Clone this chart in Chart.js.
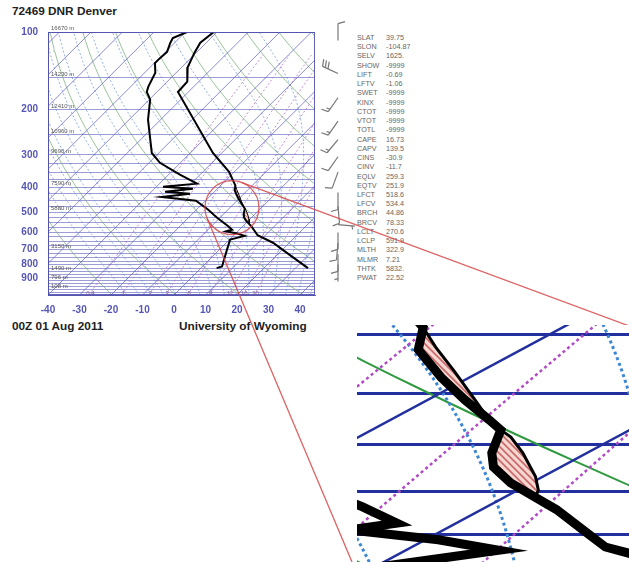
<!DOCTYPE html>
<html><head><meta charset="utf-8">
<script src="https://cdn.jsdelivr.net/npm/chart.js@4.4.1/dist/chart.umd.min.js"></script>
<style>
html,body{margin:0;padding:0;background:#fff;}
body{width:629px;height:562px;position:relative;overflow:hidden;font-family:"Liberation Sans",Arial,sans-serif;}
#main{position:absolute;left:0;top:0;z-index:2}
#zoom{position:absolute;left:357px;top:325px;z-index:3;background:#fff}
.t{position:absolute;font-weight:bold;color:#222;white-space:nowrap;z-index:1;font-size:11.8px}
#idx{position:absolute;left:357px;top:33px;font-size:7.2px;color:#666;line-height:9.23px;z-index:1;white-space:nowrap}
#idx span{display:inline-block;width:29px}
</style></head><body>
<div class="t" style="left:12px;top:4px">72469 DNR Denver</div>
<div class="t" style="left:12px;top:319px">00Z 01 Aug 2011</div>
<div class="t" style="left:179px;top:319px">University of Wyoming</div>
<div id="idx"></div>
<canvas id="main" width="629" height="562"></canvas>
<canvas id="zoom" width="272" height="237"></canvas>
<script>
// ---- sounding: 72469 Denver, 00Z 01 Aug 2011 ----
const tempP = [100, 110, 120, 137, 156, 171, 295, 349, 394, 412, 436, 456, 475, 485, 508, 523, 540, 556, 570, 598, 615, 658, 740, 826];
const tempT = [-71.0, -71.9, -70.6, -68.1, -63.6, -63.3, -32.8, -21.7, -15.4, -14.0, -11.1, -8.6, -6.2, -5.0, -3.7, -2.6, -0.8, 1.2, 2.9, 5.8, 7.5, 14.8, 24.7, 34.0];

const dewP = [100, 105.5, 110, 119.5, 128, 132, 144, 163, 171, 183, 219, 295, 322, 358, 388, 399, 406, 417, 425, 437, 452, 489, 526, 567, 586, 594, 606, 619, 640, 700, 814, 826];
const dewT = [-79.5, -82.1, -81.4, -79.5, -79.8, -79.8, -76.6, -74.4, -73.2, -69.7, -64.0, -52.2, -46.5, -36.4, -28.1, -37.9, -27.8, -35.7, -27.1, -35.0, -23.0, -16.4, -10.9, -4.8, -2.3, -3.7, 0.5, 3.6, 0.2, 2.4, 6.2, 5.0];

// lifted parcel where it departs from the environment
const parcelP = [394, 410, 430, 456, 475, 485, 492, 508, 533, 548, 556];
const parcelT = [-15.4, -13.5, -11.1, -8.2, -6.2, -5.0, -4.1, -2.5, -0.3, 0.8, 1.2];

// winds (direction deg, speed kt)
const windP   = [108, 145, 180, 222, 262, 305, 350, 420, 475, 560, 600, 660, 730, 800];
const windDir = [360, 295, 215, 215, 220, 215, 200, 180, 175, 95, 180, 185, 180, 180];
const windKt  = [10, 30, 15, 15, 15, 10, 10, 10, 10, 5, 10, 10, 10, 5];

// axes
const pressureLabels = [100, 200, 300, 400, 500, 600, 700, 800, 900];
const tempTicks = [-40, -30, -20, -10, 0, 10, 20, 30, 40];
const isobars = [100, 150, 200, 250, 300, 325, 350, 375, 400, 425, 450, 475, 500, 525, 550, 575, 600, 625, 650, 675,
                 700, 725, 750, 775, 800, 825, 850, 875, 900, 925, 950, 975, 1000, 1025, 1050];
const heightP = [100, 150, 200, 250, 300, 400, 500, 700, 850, 925, 1000];
const heightM = ['16670 m', '14230 m', '12410 m', '10960 m', '9690 m', '7590 m', '5880 m', '3150 m', '1490 m', '796 m', '108 m'];
const mixRatios = [0.4, 1, 2, 3, 5, 8, 12, 16, 20];

// station indices
const idxNames  = ['SLAT','SLON','SELV','SHOW','LIFT','LFTV','SWET','KINX','CTOT','VTOT','TOTL','CAPE','CAPV','CINS','CINV','EQLV','EQTV','LFCT','LFCV','BRCH','BRCV','LCLT','LCLP','MLTH','MLMR','THTK','PWAT'];
const idxValues = ['39.75','-104.87','1625.','-9999','-0.69','-1.06','-9999','-9999','-9999','-9999','-9999','16.73','139.5','-30.9','-11.7','259.3','251.9','518.6','534.4','44.86','78.33','270.6','591.9','322.9','7.21','5832.','22.52'];

document.getElementById('idx').innerHTML = idxNames.map((n, i) => '<div><span>' + n + '</span>' + idxValues[i] + '</div>').join('');

// ---- skew-T geometry ----
const P_BOT = 1050, P_TOP = 100;
const SKEW = 81.9;                       // deg C shift per decade of pressure (45 deg isotherms)
const skewX = (t, p) => t + SKEW * Math.log10(P_BOT / p);
const pts = (P, T) => P.map((p, i) => ({x: skewX(T[i], p), y: p}));

const pLevels = [];
for (let i = 0; i <= 80; i++) pLevels.push(P_BOT * Math.pow(P_TOP / P_BOT, i / 80));

function isothermLines() {
  const out = [];
  for (let t = -130; t <= 40; t += 10) out.push([{x: skewX(t, P_BOT), y: P_BOT}, {x: skewX(t, P_TOP), y: P_TOP}]);
  return out;
}
function dryAdiabats() {
  const out = [];
  for (let th = 230; th <= 490; th += 20)
    out.push(pLevels.map(p => ({x: skewX(th * Math.pow(p / 1000, 0.2857) - 273.15, p), y: p})));
  return out;
}
function esat(tc) { return 6.112 * Math.exp(17.67 * tc / (tc + 243.5)); }
function moistRate(p, T) {
  const Rd = 287.04, Cp = 1005.7, L = 2.501e6, eps = 0.622;
  const es = esat(T - 273.15), rs = eps * es / (p - es);
  return (Rd * T + L * rs) / (p * (Cp + L * L * rs * eps / (Rd * T * T)));
}
function moistAdiabats() {
  const out = [];
  for (let t0 = -18; t0 <= 42; t0 += 4) {
    const line = [];
    let T = t0 + 273.15, p = 1000;
    const low = [];
    while (p < P_BOT) { const dp = 5; const k1 = moistRate(p, T); const k2 = moistRate(p + dp, T + k1 * dp); T += 0.5 * (k1 + k2) * dp; p += dp; low.push({x: skewX(T - 273.15, p), y: p}); }
    for (let i = low.length - 1; i >= 0; i--) line.push(low[i]);
    T = t0 + 273.15; p = 1000;
    line.push({x: skewX(t0, 1000), y: 1000});
    while (p > P_TOP) { const dp = -5; const k1 = moistRate(p, T); const k2 = moistRate(p + dp, T + k1 * dp); T += 0.5 * (k1 + k2) * dp; p += dp; line.push({x: skewX(T - 273.15, p), y: p}); }
    out.push(line);
  }
  return out;
}
function dewFromMix(w, p) { const e = w * p / (622 + w); const a = Math.log(e / 6.112); return 243.5 * a / (17.67 - a); }
function mixLines() {
  return mixRatios.map(w => pLevels.filter(p => p >= 120).map(p => ({x: skewX(dewFromMix(w, p), p), y: p})));
}

function hatch(size, lw) {
  const c = document.createElement('canvas'); c.width = c.height = size;
  const g = c.getContext('2d');
  g.fillStyle = '#f6d6d0'; g.fillRect(0, 0, size, size);
  g.strokeStyle = '#c86a6a'; g.lineWidth = lw;
  g.beginPath(); g.moveTo(0, 0); g.lineTo(size, size); g.moveTo(-size, 0); g.lineTo(size, 2 * size); g.moveTo(0, -size); g.lineTo(2 * size, size); g.stroke();
  return g.createPattern(c, 'repeat');
}

function buildDatasets(st) {
  const ds = [];
  const add = (data, color, w, dash, order) => ds.push({data, showLine: true, pointRadius: 0, borderColor: color, borderWidth: w, borderDash: dash || [], fill: false, order, tension: 0});
  dryAdiabats().forEach(d => add(d, st.dry.c, st.dry.w, null, 9));
  moistAdiabats().forEach(d => add(d, st.moist.c, st.moist.w, st.moist.dash, 8));
  mixLines().forEach(d => add(d, st.mix.c, st.mix.w, st.mix.dash, 7));
  isothermLines().forEach(d => add(d, st.iso.c, st.iso.w, null, 6));
  // shaded area between parcel and environment
  const env = pts(tempP, tempT).filter(q => q.y >= parcelP[0] && q.y <= parcelP[parcelP.length - 1]);
  const poly = pts(parcelP, parcelT).concat(env.reverse());
  ds.push({data: poly, showLine: true, pointRadius: 0, borderWidth: 0, borderColor: 'rgba(0,0,0,0)', backgroundColor: st.hatch, fill: 'shape', order: 3});
  add(pts(parcelP, parcelT), '#000', st.parcel.w, null, 2);
  add(pts(dewP, dewT), '#000', st.dew.w, null, 1);
  add(pts(tempP, tempT), '#000', st.temp.w, null, 0);
  return ds;
}

const tickColor = '#5656b4';
const labelFont = {family: '"Liberation Sans", Arial, sans-serif', size: 10, weight: 'bold'};

function drawBarb(ctx, x, y, dir, spd, L) {
  const a = dir * Math.PI / 180;
  const ux = Math.sin(a), uy = -Math.cos(a);
  const px = -uy, py = ux;
  const ex = x + ux * L, ey = y + uy * L;
  ctx.beginPath(); ctx.moveTo(x, y); ctx.lineTo(ex, ey); ctx.stroke();
  let s = Math.round(spd / 5) * 5, d = 0;
  while (s >= 50) {
    const bx = ex - ux * d, by = ey - uy * d;
    ctx.beginPath(); ctx.moveTo(bx, by); ctx.lineTo(bx + px * 7 - ux * 2, by + py * 7 - uy * 2); ctx.lineTo(bx - ux * 4, by - uy * 4); ctx.closePath(); ctx.fill();
    s -= 50; d += 5;
  }
  while (s >= 10) {
    const bx = ex - ux * d, by = ey - uy * d;
    ctx.beginPath(); ctx.moveTo(bx, by); ctx.lineTo(bx + px * 7 + ux * 2, by + py * 7 + uy * 2); ctx.stroke();
    s -= 10; d += 3;
  }
  if (s >= 5) {
    if (d === 0) d = 3;
    const bx = ex - ux * d, by = ey - uy * d;
    ctx.beginPath(); ctx.moveTo(bx, by); ctx.lineTo(bx + px * 3.5 + ux, by + py * 3.5 + uy); ctx.stroke();
  }
}

const frame = {
  id: 'frame',
  afterDatasetsDraw(chart) {
    const {ctx, chartArea: a, scales} = chart;
    ctx.save();
    ctx.strokeStyle = 'rgba(80,80,175,0.9)'; ctx.lineWidth = 1;
    ctx.strokeRect(a.left + 0.5, a.top + 0.5, a.right - a.left - 1, a.bottom - a.top - 1);
    // heights of the standard levels
    ctx.fillStyle = '#555'; ctx.font = '6px "Liberation Sans", Arial, sans-serif'; ctx.textBaseline = 'bottom';
    heightP.forEach((p, i) => ctx.fillText(heightM[i], a.left + 3, scales.y.getPixelForValue(p) - 0.5));
    // mixing ratio values along the bottom
    ctx.fillStyle = '#7a5a9a'; ctx.textAlign = 'center';
    ctx.save(); ctx.beginPath(); ctx.rect(a.left, a.top, a.right - a.left, a.bottom - a.top); ctx.clip();
    mixRatios.forEach(w => ctx.fillText(String(w), scales.x.getPixelForValue(skewX(dewFromMix(w, 1030), 1030)), scales.y.getPixelForValue(1030) + 3));
    ctx.restore();
    // wind barbs
    ctx.strokeStyle = '#777'; ctx.fillStyle = '#777'; ctx.lineWidth = 1.2;
    windP.forEach((p, i) => drawBarb(ctx, 338, scales.y.getPixelForValue(p), windDir[i], windKt[i], 17));
    // zoom marker: circle around the 500 hPa kink and rays to the enlarged view
    const cx = scales.x.getPixelForValue(18.4), cy = scales.y.getPixelForValue(481), r = 27;
    ctx.strokeStyle = 'rgba(215,70,70,0.85)'; ctx.lineWidth = 1.3;
    ctx.beginPath(); ctx.arc(cx, cy, r, 0, Math.PI * 2); ctx.stroke();
    const ray = (Px, Py, pick) => {
      const dx = cx - Px, dy = cy - Py, d = Math.hypot(dx, dy);
      const th = Math.atan2(dy, dx), al = Math.asin(r / d), len = Math.sqrt(d * d - r * r);
      const c1 = [Px + len * Math.cos(th + al), Py + len * Math.sin(th + al)];
      const c2 = [Px + len * Math.cos(th - al), Py + len * Math.sin(th - al)];
      const t = pick(c1, c2) ? c1 : c2;
      ctx.beginPath(); ctx.moveTo(Px, Py); ctx.lineTo(t[0], t[1]); ctx.stroke();
    };
    ray(629, 326, (a1, a2) => a1[1] < a2[1]);
    ray(352, 562, (a1, a2) => a1[0] < a2[0]);
    ctx.restore();
  }
};

new Chart(document.getElementById('main'), {
  type: 'scatter',
  data: {datasets: buildDatasets({
    iso: {c: 'rgba(90,90,195,0.7)', w: 1},
    dry: {c: 'rgba(120,175,120,0.75)', w: 1},
    moist: {c: 'rgba(80,125,210,0.6)', w: 1, dash: [2, 2]},
    mix: {c: 'rgba(175,95,195,0.7)', w: 1, dash: [2, 2]},
    temp: {w: 2}, dew: {w: 2}, parcel: {w: 1}, hatch: hatch(3, 0.8)
  })},
  options: {
    responsive: false, animation: false, devicePixelRatio: 1,
    layout: {padding: {left: 0, top: 32, right: 314, bottom: 237}},
    plugins: {legend: {display: false}, tooltip: {enabled: false}},
    scales: {
      x: {
        type: 'linear', min: -40, max: -40 + 267 / 3.15,
        afterBuildTicks: s => { s.ticks = tempTicks.map(v => ({value: v})); },
        afterFit: s => { s.height = 30; },
        grid: {display: false},
        border: {display: true, color: 'rgba(80,80,175,0.9)'},
        ticks: {color: tickColor, font: labelFont, padding: 1, autoSkip: false, maxRotation: 0}
      },
      y: {
        type: 'logarithmic', reverse: true, min: P_TOP, max: P_BOT,
        afterBuildTicks: s => { s.ticks = isobars.map(v => ({value: v})); },
        afterFit: s => { s.width = 48; },
        grid: {color: 'rgba(95,95,190,0.62)', lineWidth: 1, drawTicks: false},
        border: {display: true, color: 'rgba(80,80,175,0.9)'},
        ticks: {color: tickColor, font: labelFont, padding: 10, autoSkip: false,
          callback: v => pressureLabels.includes(v) ? String(v) : ''}
      }
    }
  },
  plugins: [frame]
});

// enlarged view of the 400-600 hPa layer
new Chart(document.getElementById('zoom'), {
  type: 'scatter',
  data: {datasets: buildDatasets({
    iso: {c: '#22309f', w: 2.5},
    dry: {c: '#2f9a3f', w: 2},
    moist: {c: '#3c86d4', w: 3, dash: [3, 3]},
    mix: {c: '#b24ac6', w: 2.5, dash: [3, 3]},
    temp: {w: 9}, dew: {w: 9}, parcel: {w: 3}, hatch: hatch(7, 1.6)
  })},
  options: {
    responsive: false, animation: false, devicePixelRatio: 1,
    layout: {padding: 0},
    plugins: {legend: {display: false}, tooltip: {enabled: false}},
    scales: {
      x: {type: 'linear', min: 16.9, max: 16.9 + 272 / 25.8, display: false},
      y: {
        type: 'logarithmic', reverse: true, min: 392, max: 634,
        afterBuildTicks: s => { s.ticks = isobars.filter(p => p % 50 === 0 && p > 392 && p < 634).map(v => ({value: v})); },
        afterFit: s => { s.width = 0; },
        grid: {color: '#22309f', lineWidth: 3, drawTicks: false},
        border: {display: false},
        ticks: {display: false}
      }
    }
  }
});
</script>
</body></html>
